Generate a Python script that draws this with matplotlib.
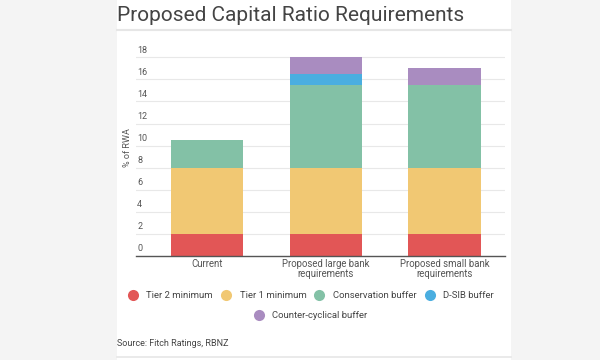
import matplotlib.pyplot as plt
from matplotlib.lines import Line2D
from matplotlib.patches import Rectangle
import numpy as np

plt.rcParams['font.family'] = ['Roboto', 'DejaVu Sans']

categories = ["Current", "Proposed large bank\nrequirements", "Proposed small bank\nrequirements"]
series_names = ["Tier 2 minimum", "Tier 1 minimum", "Conservation buffer", "D-SIB buffer",
                "Counter-cyclical buffer"]
tier2 = [2, 2, 2]
tier1 = [6, 6, 6]
conservation = [2.5, 7.5, 7.5]
dsib = [0, 1, 0]
ccyb = [0, 1.5, 1.5]
yticks = [0, 2, 4, 6, 8, 10, 12, 14, 16, 18]

colors = ["#e25656", "#f1c873", "#83c1a6", "#4aaee0", "#a98cc0"]

W, H = 600, 360
fig = plt.figure(figsize=(6, 3.6), dpi=100, facecolor="#f4f4f4")

# white card behind everything
fig.patches.append(Rectangle((117 / W, 0), (511 - 117) / W, 1, transform=fig.transFigure,
                             facecolor="white", edgecolor="none", zorder=-5))
fig.add_artist(Line2D([117 / W, 511 / W], [1 - 29.5 / H] * 2, color="#e6e6e6", lw=1.5))
fig.add_artist(Line2D([117 / W, 511 / W], [1 - 357 / H] * 2, color="#e6e6e6", lw=1.2))

fig.text(117 / W, 1 - 21 / H, "Proposed Capital Ratio Requirements", fontsize=15,
         color="#444444", ha="left", va="baseline")

ax_l, ax_r, ax_b = 136, 505, 256
ymax = 18.5
px_per_unit = (256 - 57.3) / 18
ax_t = ax_b - ymax * px_per_unit
ax = fig.add_axes([ax_l / W, 1 - ax_b / H, (ax_r - ax_l) / W, (ax_b - ax_t) / H])
ax.set_facecolor("none")
ax.set_zorder(2)

x = np.arange(len(categories))
bottom = np.zeros(len(categories))
for vals, c in zip([tier2, tier1, conservation, dsib, ccyb], colors):
    ax.bar(x, vals, bottom=bottom, width=0.61, color=c, zorder=3)
    bottom += np.array(vals)

ax.set_xlim(-0.6, 2.51)
ax.set_ylim(0, ymax)
ax.set_yticks(yticks)
ax.set_yticklabels([])
ax.tick_params(axis="y", length=0)
for t in yticks:
    ax.axhline(t, color="#e8e8e8", lw=0.8, zorder=1)
    ax.text(-0.59, t + 0.25, str(t), fontsize=6.5, color="#555555", ha="left", va="bottom")

ax.set_xticks(x)
ax.set_xticklabels(categories, fontsize=6.9, color="#555555", linespacing=1.0)
ax.tick_params(axis="x", length=0, pad=2)
for s in ["top", "right", "left"]:
    ax.spines[s].set_visible(False)
ax.spines["bottom"].set_color("#555555")
ax.spines["bottom"].set_linewidth(1.0)
ax.spines["bottom"].set_zorder(4)

fig.text(128 / W, 1 - 148 / H, "% of RWA", fontsize=6.5, color="#555555", rotation=90,
         ha="center", va="center")

handles = [Line2D([], [], marker="o", ls="none", markersize=8, markerfacecolor=c,
                  markeredgecolor="none") for c in colors]
fig.legend(handles[:4], series_names[:4], ncol=4, loc="center",
           bbox_to_anchor=(311 / W, 1 - 296 / H), frameon=False, fontsize=6.8,
           handlelength=1.0, handletextpad=0.9, columnspacing=0.9, labelcolor="#444444")
fig.legend(handles[4:], series_names[4:], loc="center",
           bbox_to_anchor=(311 / W, 1 - 316 / H), frameon=False, fontsize=6.8,
           handlelength=1.0, handletextpad=0.9, labelcolor="#444444")

fig.text(117 / W, 1 - 344 / H, "Source: Fitch Ratings, RBNZ", fontsize=6.5, color="#444444",
         ha="left", va="center")

fig.savefig("out.png", dpi=100, facecolor=fig.get_facecolor())
